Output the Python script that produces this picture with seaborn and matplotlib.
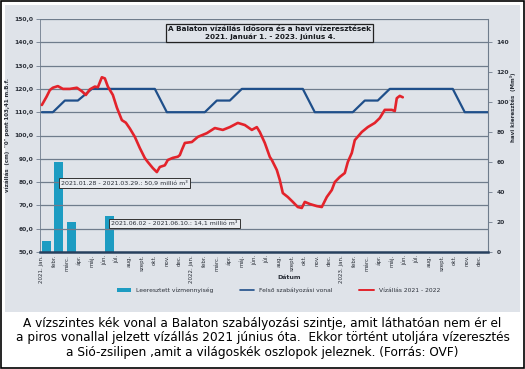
import matplotlib
matplotlib.use("Agg")
import matplotlib.pyplot as plt
import seaborn as sns
import pandas as pd
from matplotlib.patches import Rectangle, Patch
from matplotlib.lines import Line2D

# ---------------- data ----------------
month_labels = ["2021. jan.", "febr.", "márc.", "ápr.", "máj.", "jún.", "júl.", "aug.", "szept.", "okt.", "nov.", "dec.",
                "2022. jan.", "febr.", "márc.", "ápr.", "máj.", "jún.", "júl.", "aug.", "szept.", "okt.", "nov.", "dec.",
                "2023. jan.", "febr.", "márc.", "ápr.", "máj.", "jún.", "júl.", "aug.", "szept.", "okt.", "nov.", "dec."]

# water level (cm), month index from 2021-01-01
level_month = [0, 0.38, 0.64, 0.88, 1.28, 1.68, 2.24, 2.8, 3.2, 3.52, 3.84, 4.24, 4.48, 4.8, 5.04, 5.28, 5.68,
               6.0, 6.4, 6.72, 7.04, 7.44, 7.84, 8.24, 8.48, 8.88, 9.2, 9.44, 9.84, 10.08, 10.48, 10.88, 11.04,
               11.2, 11.44, 12.0, 12.48, 13.2, 13.84, 14.48, 15.04, 15.68, 16.24, 16.8, 17.2, 17.44, 17.84,
               18.24, 18.4, 18.8, 19.04, 19.28, 19.68, 20.08, 20.48, 20.8, 21.04, 21.44, 22.0, 22.4, 22.8, 23.2,
               23.44, 23.84, 24.24, 24.48, 24.8, 25.04, 25.6, 26.08, 26.64, 27.04, 27.44, 28.0, 28.24, 28.4,
               28.64, 28.88]
level_cm = [113.1, 116.7, 119.5, 120.5, 121.2, 120.0, 120.0, 120.5, 119.0, 117.4, 119.8, 121.0, 120.7, 125.0,
            124.5, 121.0, 117.4, 112.0, 106.6, 105.5, 103.0, 99.4, 94.6, 90.3, 88.6, 86.0, 84.3, 86.5, 87.2,
            89.5, 90.4, 90.9, 91.6, 93.8, 96.8, 97.2, 99.4, 101.0, 103.2, 102.4, 103.6, 105.4, 104.5, 102.4,
            103.6, 101.5, 96.8, 90.8, 89.5, 85.2, 80.9, 75.3, 73.6, 71.5, 69.3, 68.9, 71.5, 70.6, 69.7, 69.3,
            73.6, 76.6, 80.0, 82.2, 83.9, 88.6, 92.5, 98.0, 101.5, 103.6, 105.4, 107.5, 111.0, 111.0, 110.5,
            116.0, 117.0, 116.4]

# upper regulation line (cm)
reg_month = [0, 0.88, 1.84, 2.88, 4.0, 9.04, 10.0, 13.04, 14.0, 15.04, 16.0, 20.88, 21.84, 24.88, 25.84,
             26.88, 27.84, 32.88, 33.84, 35.7]
reg_cm = [110, 110, 115, 115, 120, 120, 110, 110, 115, 115, 120, 120, 110, 110, 115, 115, 120, 120, 110, 110]

# released water (right axis)
release_month = [0.4, 1.35, 2.4, 5.4]
release_val = [7, 60, 20, 24]

title = "A Balaton vízállás idősora és a havi vízeresztések\n2021. január 1. - 2023. június 4."
note1 = "2021.01.28 - 2021.03.29.: 50,9 millió m³"
note2 = "2021.06.02 - 2021.06.10.: 14,1 millió m³"
caption = ("A vízszintes kék vonal a Balaton szabályozási szintje, amit láthatóan nem ér el\n"
           "a piros vonallal jelzett vízállás 2021 június óta.  Ekkor történt utoljára vízeresztés\n"
           "a Sió-zsilipen ,amit a világoskék oszlopok jeleznek. (Forrás: OVF)")

# ---------------- style ----------------
sns.set_theme(style="white")
plt.rcParams["font.family"] = ["DejaVu Sans"]

BG = "#dfe3e9"
RED = "#e3232b"
BLUE = "#1f4f8a"
CYAN = "#1d9cc2"
GRID = "#6f7c8c"
TXT = "#2a2f38"

fig = plt.figure(figsize=(5.25, 3.69), dpi=100)
fig.patch.set_facecolor("white")
fig.patches.append(Rectangle((5 / 525, 1 - 312 / 369), 515 / 525, 307 / 369, transform=fig.transFigure,
                             facecolor=BG, edgecolor="none", zorder=-10))
fig.patches.append(Rectangle((0.001, 0.002), 0.997, 0.996, transform=fig.transFigure,
                             facecolor="none", edgecolor="black", lw=1.2, zorder=10))

ax = fig.add_axes([40 / 525, 1 - 252 / 369, 448 / 525, 233 / 369])
ax.set_facecolor(BG)
ax2 = ax.twinx()

df_bar = pd.DataFrame({"m": release_month, "v": release_val})
sns.barplot(data=df_bar, x="m", y="v", ax=ax2, native_scale=True, color=CYAN, saturation=1,
            width=0.75, edgecolor="none", zorder=2)

df_reg = pd.DataFrame({"m": reg_month, "v": reg_cm})
sns.lineplot(data=df_reg, x="m", y="v", ax=ax, color=BLUE, lw=1.6, sort=False, estimator=None, zorder=3)
df_lvl = pd.DataFrame({"m": level_month, "v": level_cm})
sns.lineplot(data=df_lvl, x="m", y="v", ax=ax, color=RED, lw=1.9, sort=False, estimator=None, zorder=4)

ax.set_zorder(ax2.get_zorder() + 1)
ax.patch.set_visible(False)
ax2.set_facecolor(BG)

ax.set_ylim(50, 150)
ax.set_yticks(range(50, 151, 10))
ax.set_yticklabels([f"{v},0" for v in range(50, 151, 10)], fontsize=4.3, color=TXT, fontweight="bold")
ax2.set_ylim(0, 155)
ax2.set_yticks(range(0, 141, 20))
ax2.set_yticklabels([str(v) for v in range(0, 141, 20)], fontsize=4.3, color=TXT, fontweight="bold")

ax.set_xlim(-0.15, 35.7)
ax.set_xticks(range(36))
ax.set_xticklabels(month_labels, rotation=90, fontsize=4.0, color=TXT)
ax.tick_params(axis="x", length=0, pad=2)
ax.tick_params(axis="y", length=3, width=0.6, color=GRID, pad=2)
ax2.tick_params(axis="y", length=3, width=0.6, color=GRID, pad=3)

for y in range(60, 151, 10):
    ax.axhline(y, color=GRID, lw=0.9, zorder=1)

for a in (ax, ax2):
    for s in a.spines.values():
        s.set_visible(False)
ax.spines["bottom"].set_visible(True)
ax.spines["bottom"].set_color("#27405e")
ax.spines["bottom"].set_linewidth(1.8)
ax.spines["left"].set_visible(True)
ax.spines["left"].set_color(GRID)
ax.spines["left"].set_linewidth(0.6)
ax2.spines["right"].set_visible(True)
ax2.spines["right"].set_color(GRID)
ax2.spines["right"].set_linewidth(0.8)

ax.set_xlabel("Dátum", fontsize=4.5, fontweight="bold", color=TXT, labelpad=2)
ax.xaxis.set_label_coords(0.555, -0.1)
ax.set_ylabel('vízállás  (cm)  "0" pont 103,41 m.B.f.', fontsize=4.0, fontweight="bold", color=TXT, labelpad=3)
ax2.set_ylabel("havi kieresztés  (Mm³)", fontsize=4.0, fontweight="bold", color=TXT, labelpad=4)
ax2.yaxis.set_label_coords(1.05, 0.62)

ax.text(0.513, 0.94, title, transform=ax.transAxes, ha="center", va="center", fontsize=5.2,
        fontweight="bold", color="#15181d", linespacing=1.3, zorder=6,
        bbox=dict(boxstyle="square,pad=0.3", facecolor=BG, edgecolor="#222", lw=0.9))

box = dict(boxstyle="square,pad=0.35", facecolor="#e9ecf0", edgecolor="#333", lw=0.7)
ax.text(1.55, 79.6, note1, fontsize=4.5, ha="left", va="center", color=TXT, zorder=6, bbox=box)
ax.text(5.55, 62.2, note2, fontsize=4.5, ha="left", va="center", color=TXT, zorder=6, bbox=box)

handles = [Patch(facecolor=CYAN, edgecolor="none"),
           Line2D([0], [0], color=BLUE, lw=1.2),
           Line2D([0], [0], color=RED, lw=1.4)]
labels = ["Leeresztett vízmennyiség", "Felső szabályozási vonal", "Vízállás 2021 - 2022"]
fig.legend(handles, labels, loc="center", bbox_to_anchor=(0.53, 1 - 290 / 369), ncol=3, frameon=False,
           fontsize=4.3, handlelength=2.4, handleheight=0.6, columnspacing=4.5, labelcolor=TXT)

fig.text(0.5, 1 - 338 / 369, caption, ha="center", va="center", fontsize=8.7, color="black",
         linespacing=1.15)

fig.savefig("out.png", dpi=100, facecolor="white")
